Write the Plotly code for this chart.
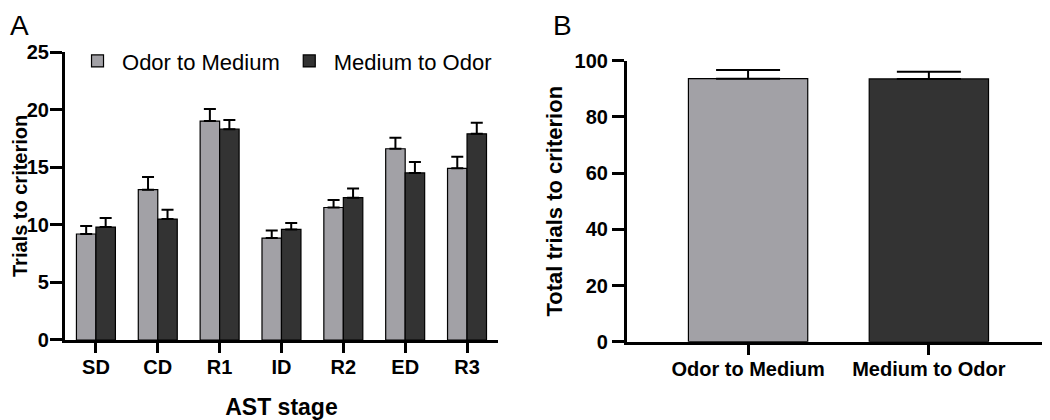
import plotly.graph_objects as go

stages = ["SD", "CD", "R1", "ID", "R2", "ED", "R3"]
odor_to_medium = [9.2, 13.05, 19.0, 8.85, 11.5, 16.6, 14.9]
odor_to_medium_err = [0.7, 1.1, 1.05, 0.65, 0.65, 0.95, 1.0]
medium_to_odor = [9.8, 10.5, 18.3, 9.6, 12.35, 14.5, 17.9]
medium_to_odor_err = [0.8, 0.8, 0.8, 0.55, 0.8, 0.95, 0.95]

groups = ["Odor to Medium", "Medium to Odor"]
total_trials = [93.6, 93.5]
total_trials_err = [3.1, 2.6]

GREY = "#a2a1a6"
DARK = "#333333"
FONT = "Liberation Sans, Arial, sans-serif"

# page body has an 8px margin, so the figure is sized to fit the window
W, H = 1042, 412

fig = go.Figure()

fig.add_trace(go.Bar(
    x=stages, y=odor_to_medium, name="Odor to Medium",
    marker=dict(color=GREY, line=dict(color="black", width=1.2)),
    error_y=dict(type="data", symmetric=False, array=odor_to_medium_err,
                 arrayminus=[0] * len(stages), color="black", thickness=2, width=6),
    xaxis="x", yaxis="y",
))
fig.add_trace(go.Bar(
    x=stages, y=medium_to_odor, name="Medium to Odor",
    marker=dict(color=DARK, line=dict(color="black", width=1.2)),
    error_y=dict(type="data", symmetric=False, array=medium_to_odor_err,
                 arrayminus=[0] * len(stages), color="black", thickness=2, width=6),
    xaxis="x", yaxis="y",
))
fig.add_trace(go.Bar(
    x=groups, y=total_trials, showlegend=False, width=0.66,
    marker=dict(color=[GREY, DARK], line=dict(color="black", width=1.2)),
    error_y=dict(type="data", symmetric=False, array=total_trials_err,
                 arrayminus=[0, 0], color="black", thickness=2, width=32),
    xaxis="x2", yaxis="y2",
))

axis_common = dict(
    showline=True, linecolor="black", linewidth=3, ticks="outside",
    tickwidth=3, tickcolor="black", showgrid=False, zeroline=False,
    automargin=False,
    tickfont=dict(family=FONT, size=20, color="black", weight="bold"),
)

ya_domain = [0.1942, 0.8932]

fig.update_layout(
    width=W, height=H,
    margin=dict(l=0, r=0, t=0, b=0),
    paper_bgcolor="white", plot_bgcolor="white",
    barmode="group", bargap=0.37, bargroupgap=0,
    font=dict(family=FONT, color="black"),
    xaxis=dict(domain=[0.0547, 0.4702], range=[-0.5, 6.5], ticklen=10, ticklabelstandoff=-3,
               title=dict(text="AST stage", font=dict(family=FONT, size=23, weight="bold"), standoff=22),
               anchor="y", **axis_common),
    yaxis=dict(domain=ya_domain, range=[0, 25], dtick=5, ticklen=12, ticklabelstandoff=-3,
               anchor="x", **axis_common),
    xaxis2=dict(domain=[0.594, 1.0], range=[-0.67, 1.67], ticklen=10, ticklabelstandoff=-3,
                anchor="y2", **axis_common),
    yaxis2=dict(domain=[0.190, 0.8721], range=[0, 100], dtick=20, ticklen=12,
                title=dict(text="Total trials to criterion", font=dict(family=FONT, size=22, weight="bold"), standoff=6),
                anchor="x2", **axis_common),
    legend=dict(orientation="h", x=0.0624, y=0.922, xanchor="left", yanchor="top",
                font=dict(family=FONT, size=22, color="black"),
                bgcolor="rgba(0,0,0,0)", itemwidth=39, tracegroupgap=0),
    annotations=[
        dict(text="Trials to criterion", textangle=-90, x=0.0, y=sum(ya_domain) / 2,
             xref="paper", yref="paper", xanchor="left", yanchor="middle", showarrow=False,
             borderpad=0, font=dict(family=FONT, size=20, color="black", weight="bold")),
        dict(text="A", x=0.0, y=1.0, xref="paper", yref="paper", xanchor="left", yanchor="top",
             showarrow=False, font=dict(family=FONT, size=28, color="black")),
        dict(text="B", x=0.521, y=1.0, xref="paper", yref="paper", xanchor="left", yanchor="top",
             showarrow=False, font=dict(family=FONT, size=28, color="black")),
    ],
)

fig.write_html("out.html")
